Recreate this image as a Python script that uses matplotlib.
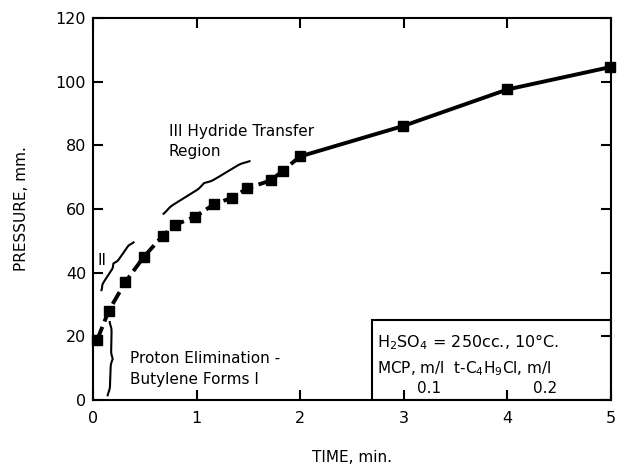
import numpy as np
import matplotlib
matplotlib.use("Agg")
import matplotlib.pyplot as plt

plt.rcParams["font.family"] = ["DejaVu Sans"]
plt.rcParams["mathtext.default"] = "regular"

# pressure build-up vs time, H2SO4 = 250 cc at 10 C
time_min = [0.04, 0.15, 0.31, 0.49, 0.67, 0.79, 0.98, 1.17, 1.34, 1.49,
            1.72, 1.83, 2.00, 2.99, 4.00, 4.99]
pressure_mm = [19.0, 28.0, 37.0, 45.0, 51.5, 55.0, 57.5, 61.5, 63.5, 66.5,
               69.0, 72.0, 76.5, 86.0, 97.5, 104.5]
x_ticks = [0, 1, 2, 3, 4, 5]
y_ticks = [0, 20, 40, 60, 80, 100, 120]
split_t = 2.0   # dashed early part, solid afterwards


def brace(ax, p0, p1, depth, **kw):
    """Curly brace from p0 to p1 (data coords), tip offset by depth pixels."""
    tr = ax.transData
    a = tr.transform(p0)
    b = tr.transform(p1)
    d = b - a
    u = d / np.hypot(*d)
    n = np.array([-u[1], u[0]])
    s = np.linspace(0, 1, 300)
    m = np.minimum(s, 1 - s)
    k = 45.0
    h = 0.5 / (1 + np.exp(-k * (m - 0.05))) + 0.5 / (1 + np.exp(-k * (m - 0.47)))
    h = (h - h.min()) / (h.max() - h.min())
    pts = a + np.outer(s, d) + np.outer(depth * h, n)
    xy = tr.inverted().transform(pts)
    ax.plot(xy[:, 0], xy[:, 1], color="black", lw=1.5, clip_on=False, **kw)


fig = plt.figure(figsize=(6.17, 4.69), dpi=100)
ax = fig.add_axes([0.151, 0.147, 0.839, 0.815])
ax.set_xlim(0, 5)
ax.set_ylim(0, 120)

t = np.array(time_min)
p = np.array(pressure_mm)
early = t <= split_t
late = t >= split_t
ax.plot(t[early], p[early], color="black", lw=2.8, ls=(0, (3.5, 1.5)),
        solid_capstyle="butt")
ax.plot(t[late], p[late], color="black", lw=2.8)
ax.plot(t, p, ls="none", marker="s", ms=7.5, color="black", clip_on=False,
        zorder=5)

for side in ax.spines.values():
    side.set_linewidth(1.5)
ax.set_xticks(x_ticks)
ax.set_yticks(y_ticks)
ax.tick_params(direction="in", length=7, width=1.5, top=True, right=True,
               labelsize=11.5, pad=5)
ax.tick_params(axis="x", pad=8)
ax.set_xlabel("TIME, min.", fontsize=11, labelpad=17)
ax.set_ylabel("PRESSURE, mm.", fontsize=11, labelpad=19)

# region annotations
brace(ax, (0.08, 34.5), (0.39, 49.5), 5)
brace(ax, (0.68, 58.5), (1.51, 75.0), 5)
brace(ax, (0.16, 24.5), (0.14, 1.5), 4)
ax.text(0.04, 42.5, "II", fontsize=11)
ax.text(0.73, 83.0, "III Hydride Transfer", fontsize=11)
ax.text(0.73, 76.5, "Region", fontsize=11)
ax.text(0.36, 11.5, "Proton Elimination -", fontsize=11)
ax.text(0.36, 5.0, "Butylene Forms I", fontsize=11)

# conditions box
box = plt.Rectangle((2.69, 0), 5 - 2.69, 25.2, fill=False, lw=1.5,
                    edgecolor="black", zorder=4)
ax.add_patch(box)
ax.text(2.74, 16.5, "H$_2$SO$_4$ = 250cc., 10°C.", fontsize=11.5)
ax.text(2.74, 8.5, "MCP, m/l  t-C$_4$H$_9$Cl, m/l", fontsize=11)
ax.text(3.13, 2.2, "0.1", fontsize=11)
ax.text(4.25, 2.2, "0.2", fontsize=11)

fig.savefig("out.png", dpi=100)
